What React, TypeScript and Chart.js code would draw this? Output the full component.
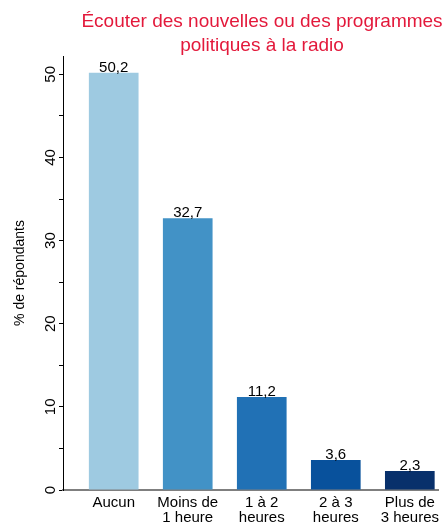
import { useEffect, useRef } from 'react';
import { Chart, registerables } from 'chart.js';

Chart.register(...registerables);

const categories: string[][] = [
  ['Aucun'],
  ['Moins de', '1 heure'],
  ['1 à 2', 'heures'],
  ['2 à 3', 'heures'],
  ['Plus de', '3 heures'],
];
const values: number[] = [50.2, 32.7, 11.2, 3.6, 2.3];
const valueLabels: string[] = ['50,2', '32,7', '11,2', '3,6', '2,3'];
const barColors: string[] = ['#9ecae1', '#4292c6', '#2171b5', '#08519c', '#08306b'];
const yTickValues: number[] = [0, 5, 10, 15, 20, 25, 30, 35, 40, 45, 50];
const yTickLabels: string[] = ['0', '', '10', '', '20', '', '30', '', '40', '', '50'];
const titleLines: string[] = ['Écouter des nouvelles ou des programmes', 'politiques à la radio'];
const yAxisTitle = '% de répondants';

const FONT = "'Liberation Sans', Arial, Helvetica, sans-serif";

const overlayPlugin = {
  id: 'overlayText',
  afterDatasetsDraw(chart: any) {
    const ctx = chart.ctx;
    ctx.save();
    // value labels
    const meta = chart.getDatasetMeta(0);
    ctx.fillStyle = '#000';
    ctx.font = `15px ${FONT}`;
    ctx.textAlign = 'center';
    ctx.textBaseline = 'alphabetic';
    meta.data.forEach((bar: any, i: number) => {
      ctx.fillText(valueLabels[i], bar.x, bar.y - 1);
    });
    // title
    ctx.fillStyle = '#e3193b';
    ctx.font = `19px ${FONT}`;
    const cx = 262;
    ctx.fillText(titleLines[0], cx, 27);
    ctx.fillText(titleLines[1], cx, 51);
    ctx.restore();
  },
};

export default function App() {
  const canvasRef = useRef<HTMLCanvasElement | null>(null);

  useEffect(() => {
    const canvas = canvasRef.current;
    if (!canvas) return;
    const chart = new Chart(canvas, {
      type: 'bar',
      data: {
        datasets: [
          {
            data: values.map((v, i) => ({ x: i, y: v })),
            backgroundColor: barColors,
            borderWidth: 0,
            categoryPercentage: 1,
            barPercentage: 0.671,
          },
        ],
      },
      options: {
        responsive: false,
        animation: false,
        devicePixelRatio: 1,
        layout: { padding: { top: 56, left: 0, right: 0, bottom: 0 } },
        plugins: {
          legend: { display: false },
          tooltip: { enabled: false },
          title: { display: false },
        },
        scales: {
          x: {
            type: 'linear',
            offset: false,
            min: -0.685,
            max: 4.39,
            afterBuildTicks: (scale: any) => {
              scale.ticks = categories.map((_, i) => ({ value: i }));
            },
            afterFit: (scale: any) => {
              scale.height = 36;
            },
            grid: { display: true, drawOnChartArea: false, drawTicks: false },
            border: { display: true, color: '#7f7f7f', width: 2 },
            ticks: {
              autoSkip: false,
              maxRotation: 0,
              minRotation: 0,
              padding: 5,
              color: '#000',
              font: { family: FONT, size: 15, lineHeight: 1.0 },
              callback: (v: any) => categories[Math.round(Number(v))] ?? '',
            },
          },
          y: {
            min: 0,
            max: 52.2,
            afterBuildTicks: (scale: any) => {
              scale.ticks = yTickValues.map((v) => ({ value: v }));
            },
            afterFit: (scale: any) => {
              scale.width = 63;
            },
            grid: {
              display: true,
              drawOnChartArea: false,
              drawTicks: true,
              tickLength: 4,
              color: '#000',
              lineWidth: 1,
            },
            border: { display: true, color: '#000', width: 1 },
            ticks: {
              autoSkip: false,
              minRotation: 90,
              maxRotation: 90,
              crossAlign: 'center',
              padding: 0,
              color: '#000',
              font: { family: FONT, size: 15 },
              callback: (v: any) => {
                const idx = yTickValues.indexOf(Number(v));
                return idx >= 0 ? yTickLabels[idx] : '';
              },
            },
            title: {
              display: true,
              text: yAxisTitle,
              color: '#000',
              padding: { top: 12, bottom: 0 },
              font: { family: FONT, size: 14 },
            },
          },
        },
      },
      plugins: [overlayPlugin],
    } as any);
    return () => chart.destroy();
  }, []);

  return (
    <div style={{ position: 'absolute', left: 0, top: 0, width: 444, height: 526 }}>
      <canvas ref={canvasRef} width={444} height={526} style={{ display: 'block' }} />
    </div>
  );
}
